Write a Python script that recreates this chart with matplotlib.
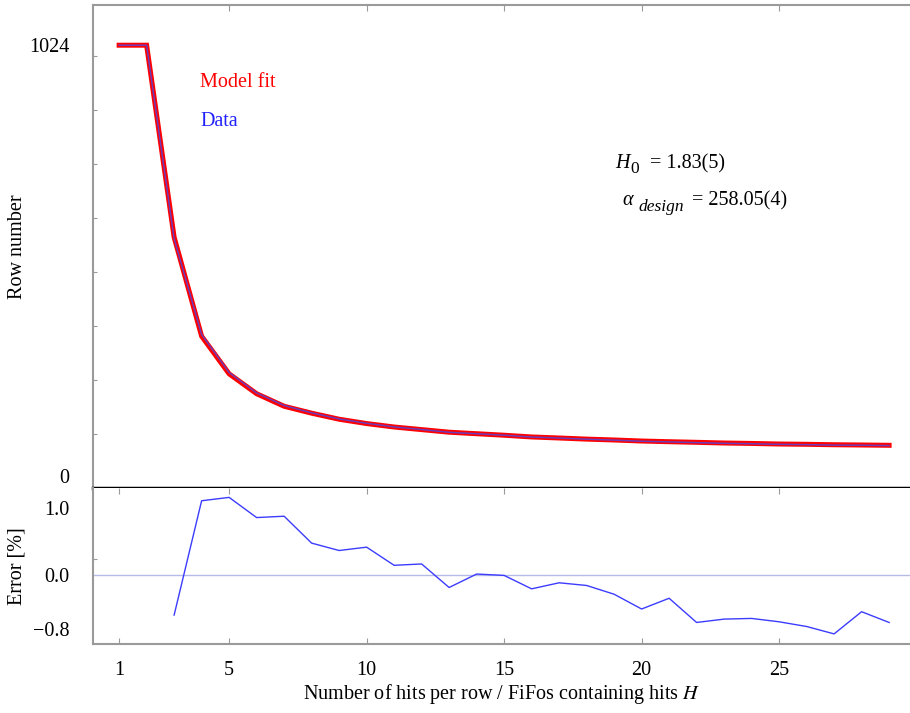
import matplotlib.pyplot as plt
import matplotlib as mpl
from matplotlib.ticker import FixedLocator
from matplotlib.transforms import offset_copy

# hits per row H
hits = list(range(1, 30))
# row number from the model fit and from the measurement
row_fit = [1024, 1024, 580, 351, 264, 218, 189, 173, 159, 149, 141, 135, 129, 125.5, 122,
           118, 115.6, 113, 111, 108.6, 107, 105.6, 104, 103, 101.7, 101, 100, 99.4, 98.7]
row_data = [1024, 1024, 576.6, 354.9, 267.1, 219.9, 190.7, 173.8, 159.6, 149.6, 141.2, 135.2,
            128.8, 125.5, 122.0, 117.8, 115.5, 112.8, 110.7, 108.1, 106.6, 104.9, 103.3, 102.3,
            101.0, 100.2, 99.1, 98.9, 98.0]
# relative error in percent, starting at H = 3
err_hits = list(range(3, 30))
err_pct = [-0.59, 1.11, 1.16, 0.86, 0.88, 0.48, 0.37, 0.42, 0.15, 0.17, -0.18, 0.02, 0.00,
           -0.20, -0.11, -0.15, -0.28, -0.50, -0.34, -0.70, -0.65, -0.64, -0.69, -0.76,
           -0.87, -0.54, -0.70]

x_ticks = [1, 5, 10, 15, 20, 25]

mpl.rcParams['font.family'] = ['Liberation Serif', 'DejaVu Serif']
mpl.rcParams['mathtext.fontset'] = 'stix'
mpl.rcParams['font.size'] = 14.5

gray = '#9a9a9a'
fig = plt.figure(figsize=(9.1, 7.13), dpi=100)
ax1 = fig.add_axes([0.1022, 0.3156, 0.8978, 0.6774])
ax2 = fig.add_axes([0.1022, 0.0968, 0.8978, 0.2188])


def piece(ax, x, y, s, dx=0, dy=0, **kw):
    # text placed in axes coords, nudged by a few pixels
    tr = offset_copy(ax.transAxes, fig=fig, x=dx, y=dy, units='dots')
    ax.text(x, y, s, transform=tr, va='baseline', **kw)


# upper panel: row number vs H
ax1.plot(hits, row_fit, color='#ff0000', lw=3.6, solid_joinstyle='miter', zorder=2)
ax1.plot(hits, row_data, color='#4a4ae8', lw=1.1, alpha=0.8, zorder=3)
ax1.set_xlim(0.05, 29.76)
ax1.set_ylim(0, 1117)
ax1.set_xticks(x_ticks[1:])
ax1.set_yticks([0, 1024])
ax1.set_yticklabels(['0', '1024'])
ax1.yaxis.set_minor_locator(FixedLocator([125 * k for k in range(1, 9)]))
ax1.tick_params(axis='y', which='major', length=0, pad=17)
ax1.tick_params(axis='y', which='minor', direction='in', length=3, color=gray, width=0.8)
ax1.tick_params(axis='x', which='major', direction='in', length=4, color=gray, width=0.8,
                bottom=False, top=True, labelbottom=False, labeltop=False)
ax1.get_yticklabels()[0].set_verticalalignment('bottom')
for side in ['left', 'top']:
    ax1.spines[side].set_color(gray)
    ax1.spines[side].set_linewidth(1.5)
ax1.spines['right'].set_visible(False)
ax1.spines['bottom'].set_color('black')
ax1.spines['bottom'].set_linewidth(2.5)
ax1.set_ylabel('Row number')
ax1.yaxis.set_label_coords(-0.081, 0.5)

ax1.text(0.131, 0.8385, 'Model fit', color='#ff0000', transform=ax1.transAxes, va='center')
ax1.text(0.131, 0.758, 'Data', color='#2020ff', transform=ax1.transAxes, va='center')

# fit parameters
piece(ax1, 0.639, 0.662, 'H', style='italic')
piece(ax1, 0.639, 0.662, '0', dx=15, dy=-5, fontsize=12.5)
piece(ax1, 0.639, 0.662, '= 1.83(5)', dx=35)
piece(ax1, 0.648, 0.585, '\u03b1', style='italic')
piece(ax1, 0.648, 0.585, 'design', dx=16, dy=-6, fontsize=12.5, style='italic')
piece(ax1, 0.648, 0.585, '= 258.05(4)', dx=70)

# lower panel: relative error
ax2.axhline(0, color='#b4bce6', lw=1, zorder=1)
ax2.plot(err_hits, err_pct, color='#3c3cff', lw=1.0, zorder=2)
ax2.set_xlim(0.05, 29.76)
ax2.set_ylim(-1.02, 1.30)
ax2.set_yticks([-0.8, 0.0, 1.0])
ax2.set_yticklabels(['\u22120.8', '0.0', '1.0'])
ax2.yaxis.set_minor_locator(FixedLocator([0.25]))
ax2.tick_params(axis='y', which='major', length=0, pad=17)
ax2.tick_params(axis='y', which='minor', direction='in', length=3, color=gray, width=0.8)
ax2.set_xticks(x_ticks)
ax2.set_xticklabels([str(v) for v in x_ticks])
ax2.tick_params(axis='x', which='major', direction='in', length=4, color=gray, width=0.8,
                top=True, pad=12)
for side in ['left', 'bottom']:
    ax2.spines[side].set_color(gray)
    ax2.spines[side].set_linewidth(1.5)
ax2.spines['right'].set_visible(False)
ax2.spines['top'].set_visible(False)
ax2.set_ylabel('Error [%]')
ax2.yaxis.set_label_coords(-0.081, 0.5)
ax2.set_xlabel('Number of hits per row / FiFos containing hits $H$', labelpad=2)

fig.savefig('out.png', dpi=100)
